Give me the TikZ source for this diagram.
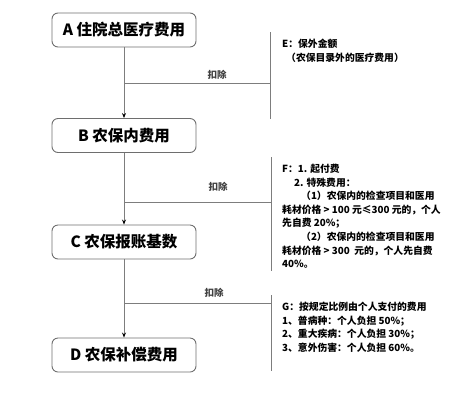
\documentclass[tikz,border=0pt]{standalone}
\usepackage{fontspec}
\usepackage{tikz}
\usetikzlibrary{positioning,arrows.meta,calc}
\newfontfamily\cjk{Noto Sans CJK SC}
\definecolor{boxgray}{RGB}{110,110,110}
\definecolor{linegray}{RGB}{125,125,125}

\begin{document}
\begin{tikzpicture}[x=1pt, y=-1pt,
  every node/.style={font=\cjk},
  stage/.style={rectangle, rounded corners=6pt, draw=boxgray, line width=0.9pt, minimum width=144pt, minimum height=34pt, font=\cjk\bfseries\fontsize{15.5}{15.5}\selectfont},
  flow/.style={draw=linegray, line width=0.9pt, -{Stealth[length=5pt, width=4pt, color=black]}},
  side/.style={draw=linegray, line width=0.9pt},
  note/.style={anchor=north west, align=left, inner sep=0pt, font=\cjk\bfseries\fontsize{9.8}{13.6}\selectfont},
  cut/.style={font=\cjk\bfseries\fontsize{9.5}{9.5}\selectfont, text=black!75}
]
  \useasboundingbox (0,0) rectangle (470,400);

  % main chain
  \node[stage] (a) at (124,30) {A 住院总医疗费用};
  \node[stage] (b) at (124,135.5) {B 农保内费用};
  \node[stage] (c) at (124,242) {C 农保报账基数};
  \node[stage] (d) at (124,355) {D 农保补偿费用};

  \draw[flow] (a) -- (b);
  \draw[flow] (b) -- (c);
  \draw[flow] (c) -- (d);

  % deductions
  \coordinate (ja) at (124,83);
  \coordinate (jb) at (124,202);
  \coordinate (jc) at (124,303);
  \coordinate (ea) at (270,83);
  \coordinate (fb) at (271,202);
  \coordinate (gc) at (271,303);
  \coordinate (et) at (270,32);
  \coordinate (eb) at (270,119);
  \coordinate (ft) at (271,157);
  \coordinate (fe) at (271,271);
  \coordinate (gt) at (271,295);
  \coordinate (ge) at (271,371);

  \draw[side] (ja) -- (ea);
  \draw[side] (jb) -- (fb);
  \draw[side] (jc) -- (gc);
  \draw[side] (et) -- (eb);
  \draw[side] (ft) -- (fe);
  \draw[side] (gt) -- (ge);

  \node[cut] (ka) at (217,75) {扣除};
  \node[cut] (kb) at (218,187) {扣除};
  \node[cut] (kc) at (214,293) {扣除};

  % notes
  \node[note] (e) at (282,39) {E：保外金额\\\hspace*{4pt}（农保目录外的医疗费用）};
  \node[note] (f) at (282,164) {F：1. 起付费\\
    \hspace*{12pt}2. 特殊费用：\\
    \hspace*{19pt}（1）农保内的检查项目和医用\\
    耗材价格 > 100 元≤300 元的，个人\\
    先自费 20\%；\\
    \hspace*{19pt}（2）农保内的检查项目和医用\\
    耗材价格 > 300\ \ 元的，个人先自费\\
    40\%。};
  \node[note] (g) at (282,302) {G：按规定比例由个人支付的费用\\
    1、普病种：个人负担 50\%；\\
    2、重大疾病：个人负担 30\%；\\
    3、意外伤害：个人负担 60\%。};
\end{tikzpicture}
\end{document}
